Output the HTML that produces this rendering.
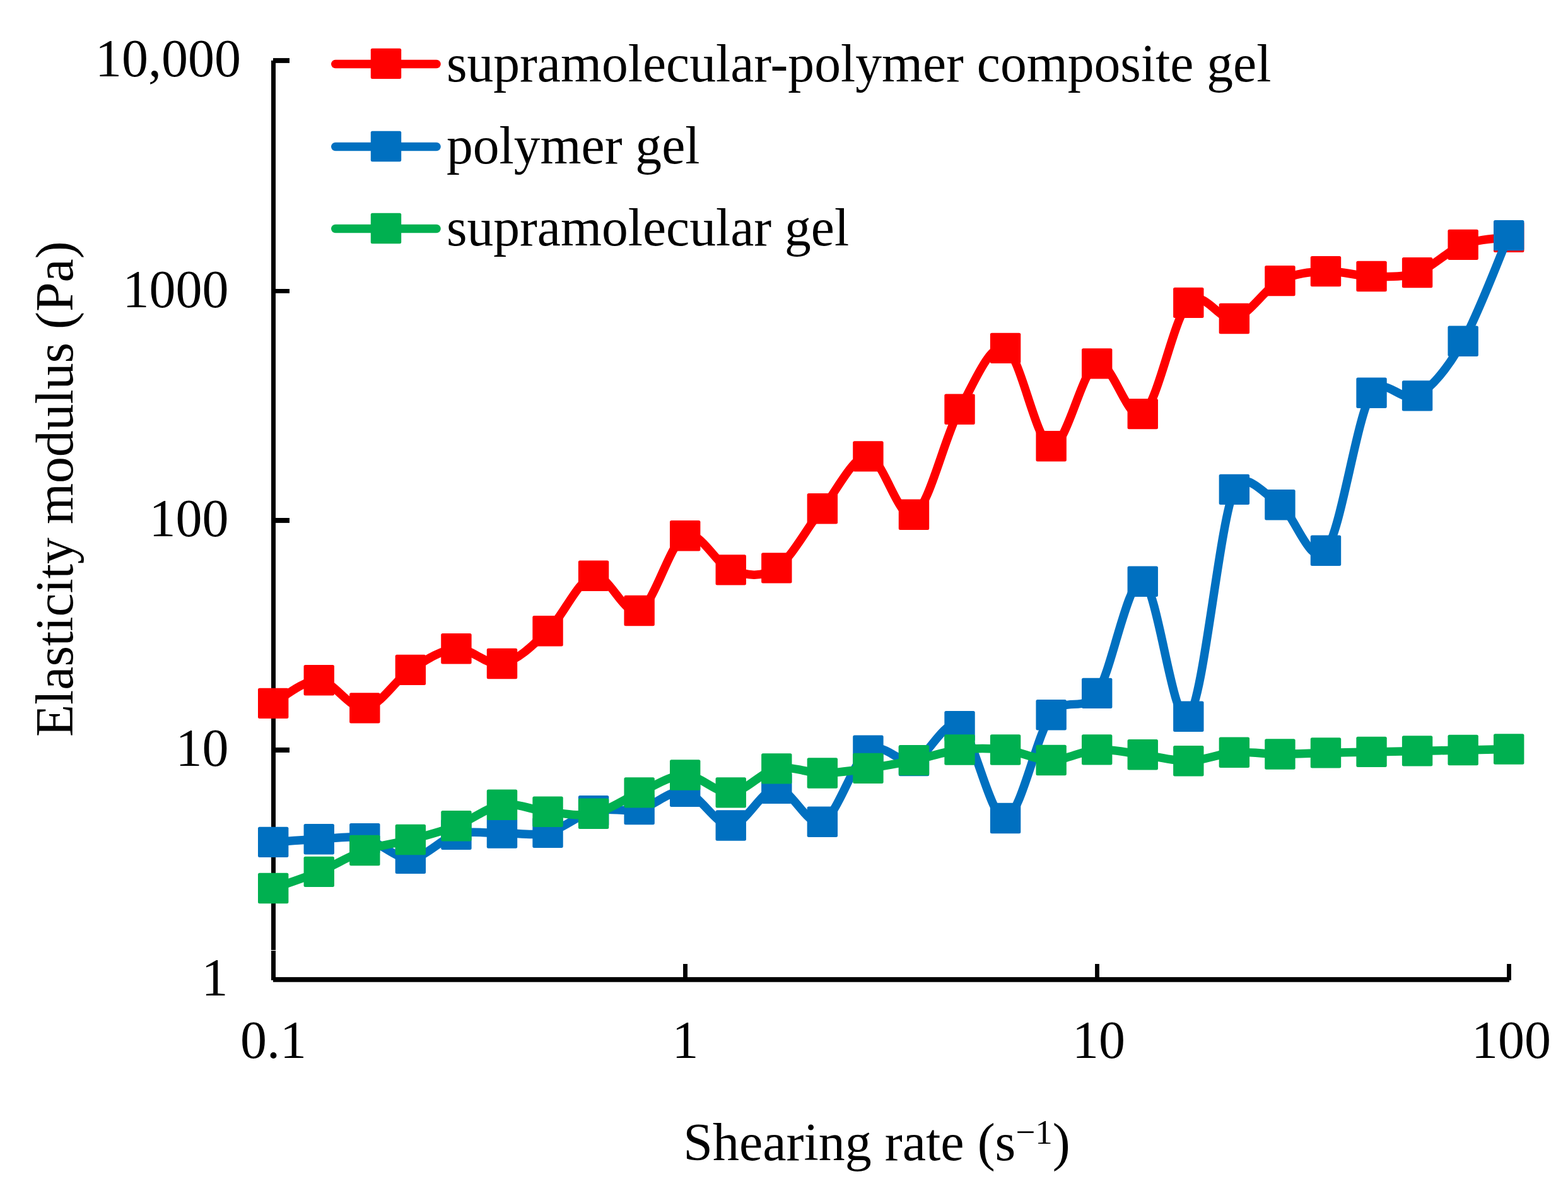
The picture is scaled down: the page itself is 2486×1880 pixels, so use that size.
<!DOCTYPE html>
<html><head><meta charset="utf-8"><title>Elasticity modulus vs shearing rate</title>
<style>html,body{margin:0;padding:0;background:#fff;overflow:hidden;}svg{display:block;}</style>
</head><body>
<svg width="2486" height="1880" viewBox="0 0 2486 1880">
<rect width="2486" height="1880" fill="#fff"/>
<rect x="430" y="95.9" width="7" height="1410.1" fill="#000"/>
<rect x="430" y="1507" width="7" height="46.8" fill="#000"/>
<rect x="433" y="1548.9" width="1959.9" height="7.8" fill="#000"/>
<rect x="433" y="92.1" width="26" height="7.8" fill="#000"/>
<rect x="433" y="458.0" width="26" height="6.8" fill="#000"/>
<rect x="433" y="821.0" width="26" height="7.9" fill="#000"/>
<rect x="433" y="1184.9" width="26" height="8.0" fill="#000"/>
<rect x="1083.05" y="1528.0" width="6.95" height="25.8" fill="#000"/>
<rect x="1736.07" y="1528.0" width="6.83" height="25.8" fill="#000"/>
<rect x="2389.10" y="1528.0" width="6.80" height="25.8" fill="#000"/>
<path d="M433.20 1114.90 C445.29 1108.80 481.57 1077.05 505.76 1078.30 C529.94 1079.55 554.13 1125.13 578.31 1122.40 C602.50 1119.67 626.68 1077.58 650.87 1061.90 C675.05 1046.22 699.24 1029.95 723.42 1028.30 C747.61 1026.65 771.79 1056.67 795.98 1052.00 C820.16 1047.33 844.35 1023.50 868.53 1000.30 C892.72 977.10 916.90 918.18 941.09 912.80 C965.27 907.42 989.46 978.60 1013.64 968.00 C1037.83 957.40 1062.01 859.97 1086.20 849.20 C1110.39 838.43 1134.57 894.87 1158.76 903.40 C1182.94 911.93 1207.13 916.58 1231.31 900.40 C1255.50 884.22 1279.68 835.80 1303.87 806.30 C1328.05 776.80 1352.24 721.82 1376.42 723.40 C1400.61 724.98 1424.79 828.23 1448.98 815.80 C1473.16 803.37 1497.35 692.78 1521.53 648.80 C1545.72 604.82 1569.90 542.17 1594.09 551.90 C1618.27 561.63 1642.46 703.12 1666.64 707.20 C1690.83 711.28 1715.01 584.92 1739.20 576.40 C1763.39 567.88 1787.57 672.18 1811.76 656.10 C1835.94 640.02 1860.13 505.08 1884.31 479.90 C1908.50 454.72 1932.68 510.80 1956.87 505.00 C1981.05 499.20 2005.24 457.58 2029.42 445.10 C2053.61 432.62 2077.79 431.28 2101.98 430.10 C2126.16 428.92 2150.35 437.67 2174.53 438.00 C2198.72 438.33 2222.90 440.45 2247.09 432.10 C2271.27 423.75 2295.46 397.28 2319.64 387.90 C2343.83 378.52 2380.11 377.82 2392.20 375.80" fill="none" stroke="#FF0000" stroke-width="13.5" stroke-linecap="round" stroke-linejoin="round"/>
<rect x="409.00" y="1090.70" width="48.4" height="48.4" rx="2.5" fill="#FF0000"/>
<rect x="481.56" y="1054.10" width="48.4" height="48.4" rx="2.5" fill="#FF0000"/>
<rect x="554.11" y="1098.20" width="48.4" height="48.4" rx="2.5" fill="#FF0000"/>
<rect x="626.67" y="1037.70" width="48.4" height="48.4" rx="2.5" fill="#FF0000"/>
<rect x="699.22" y="1004.10" width="48.4" height="48.4" rx="2.5" fill="#FF0000"/>
<rect x="771.78" y="1027.80" width="48.4" height="48.4" rx="2.5" fill="#FF0000"/>
<rect x="844.33" y="976.10" width="48.4" height="48.4" rx="2.5" fill="#FF0000"/>
<rect x="916.89" y="888.60" width="48.4" height="48.4" rx="2.5" fill="#FF0000"/>
<rect x="989.44" y="943.80" width="48.4" height="48.4" rx="2.5" fill="#FF0000"/>
<rect x="1062.00" y="825.00" width="48.4" height="48.4" rx="2.5" fill="#FF0000"/>
<rect x="1134.56" y="879.20" width="48.4" height="48.4" rx="2.5" fill="#FF0000"/>
<rect x="1207.11" y="876.20" width="48.4" height="48.4" rx="2.5" fill="#FF0000"/>
<rect x="1279.67" y="782.10" width="48.4" height="48.4" rx="2.5" fill="#FF0000"/>
<rect x="1352.22" y="699.20" width="48.4" height="48.4" rx="2.5" fill="#FF0000"/>
<rect x="1424.78" y="791.60" width="48.4" height="48.4" rx="2.5" fill="#FF0000"/>
<rect x="1497.33" y="624.60" width="48.4" height="48.4" rx="2.5" fill="#FF0000"/>
<rect x="1569.89" y="527.70" width="48.4" height="48.4" rx="2.5" fill="#FF0000"/>
<rect x="1642.44" y="683.00" width="48.4" height="48.4" rx="2.5" fill="#FF0000"/>
<rect x="1715.00" y="552.20" width="48.4" height="48.4" rx="2.5" fill="#FF0000"/>
<rect x="1787.56" y="631.90" width="48.4" height="48.4" rx="2.5" fill="#FF0000"/>
<rect x="1860.11" y="455.70" width="48.4" height="48.4" rx="2.5" fill="#FF0000"/>
<rect x="1932.67" y="480.80" width="48.4" height="48.4" rx="2.5" fill="#FF0000"/>
<rect x="2005.22" y="420.90" width="48.4" height="48.4" rx="2.5" fill="#FF0000"/>
<rect x="2077.78" y="405.90" width="48.4" height="48.4" rx="2.5" fill="#FF0000"/>
<rect x="2150.33" y="413.80" width="48.4" height="48.4" rx="2.5" fill="#FF0000"/>
<rect x="2222.89" y="407.90" width="48.4" height="48.4" rx="2.5" fill="#FF0000"/>
<rect x="2295.44" y="363.70" width="48.4" height="48.4" rx="2.5" fill="#FF0000"/>
<rect x="2368.00" y="351.60" width="48.4" height="48.4" rx="2.5" fill="#FF0000"/>
<path d="M433.20 1334.90 C445.29 1334.12 481.57 1331.17 505.76 1330.20 C529.94 1329.23 554.13 1324.00 578.31 1329.10 C602.50 1334.20 626.68 1361.87 650.87 1360.80 C675.05 1359.73 699.24 1329.40 723.42 1322.70 C747.61 1316.00 771.79 1321.07 795.98 1320.60 C820.16 1320.13 844.35 1325.80 868.53 1319.90 C892.72 1314.00 916.90 1291.35 941.09 1285.20 C965.27 1279.05 989.46 1288.07 1013.64 1283.00 C1037.83 1277.93 1062.01 1250.55 1086.20 1254.80 C1110.39 1259.05 1134.57 1309.33 1158.76 1308.50 C1182.94 1307.67 1207.13 1250.75 1231.31 1249.80 C1255.50 1248.85 1279.68 1312.80 1303.87 1302.80 C1328.05 1292.80 1352.24 1205.93 1376.42 1189.80 C1400.61 1173.67 1424.79 1212.45 1448.98 1206.00 C1473.16 1199.55 1497.35 1135.93 1521.53 1151.10 C1545.72 1166.27 1569.90 1299.97 1594.09 1297.00 C1618.27 1294.03 1642.46 1166.32 1666.64 1133.30 C1690.37 1100.91 1716.49 1132.01 1739.20 1098.90 C1763.39 1063.65 1787.57 915.67 1811.76 921.80 C1835.94 927.93 1860.13 1160.02 1884.31 1135.70 C1908.50 1111.38 1932.68 831.82 1956.87 775.90 C1972.05 740.79 2005.24 784.07 2029.42 800.20 C2053.61 816.33 2077.79 902.27 2101.98 872.70 C2126.16 843.13 2150.35 663.68 2174.53 622.80 C2193.04 591.51 2222.90 641.07 2247.09 627.40 C2271.27 613.73 2295.46 583.18 2319.64 540.80 C2343.83 498.42 2380.11 401.05 2392.20 373.10" fill="none" stroke="#0070C0" stroke-width="13.5" stroke-linecap="round" stroke-linejoin="round"/>
<rect x="409.00" y="1310.70" width="48.4" height="48.4" rx="2.5" fill="#0070C0"/>
<rect x="481.56" y="1306.00" width="48.4" height="48.4" rx="2.5" fill="#0070C0"/>
<rect x="554.11" y="1304.90" width="48.4" height="48.4" rx="2.5" fill="#0070C0"/>
<rect x="626.67" y="1336.60" width="48.4" height="48.4" rx="2.5" fill="#0070C0"/>
<rect x="699.22" y="1298.50" width="48.4" height="48.4" rx="2.5" fill="#0070C0"/>
<rect x="771.78" y="1296.40" width="48.4" height="48.4" rx="2.5" fill="#0070C0"/>
<rect x="844.33" y="1295.70" width="48.4" height="48.4" rx="2.5" fill="#0070C0"/>
<rect x="916.89" y="1261.00" width="48.4" height="48.4" rx="2.5" fill="#0070C0"/>
<rect x="989.44" y="1258.80" width="48.4" height="48.4" rx="2.5" fill="#0070C0"/>
<rect x="1062.00" y="1230.60" width="48.4" height="48.4" rx="2.5" fill="#0070C0"/>
<rect x="1134.56" y="1284.30" width="48.4" height="48.4" rx="2.5" fill="#0070C0"/>
<rect x="1207.11" y="1225.60" width="48.4" height="48.4" rx="2.5" fill="#0070C0"/>
<rect x="1279.67" y="1278.60" width="48.4" height="48.4" rx="2.5" fill="#0070C0"/>
<rect x="1352.22" y="1165.60" width="48.4" height="48.4" rx="2.5" fill="#0070C0"/>
<rect x="1424.78" y="1181.80" width="48.4" height="48.4" rx="2.5" fill="#0070C0"/>
<rect x="1497.33" y="1126.90" width="48.4" height="48.4" rx="2.5" fill="#0070C0"/>
<rect x="1569.89" y="1272.80" width="48.4" height="48.4" rx="2.5" fill="#0070C0"/>
<rect x="1642.44" y="1109.10" width="48.4" height="48.4" rx="2.5" fill="#0070C0"/>
<rect x="1715.00" y="1074.70" width="48.4" height="48.4" rx="2.5" fill="#0070C0"/>
<rect x="1787.56" y="897.60" width="48.4" height="48.4" rx="2.5" fill="#0070C0"/>
<rect x="1860.11" y="1111.50" width="48.4" height="48.4" rx="2.5" fill="#0070C0"/>
<rect x="1932.67" y="751.70" width="48.4" height="48.4" rx="2.5" fill="#0070C0"/>
<rect x="2005.22" y="776.00" width="48.4" height="48.4" rx="2.5" fill="#0070C0"/>
<rect x="2077.78" y="848.50" width="48.4" height="48.4" rx="2.5" fill="#0070C0"/>
<rect x="2150.33" y="598.60" width="48.4" height="48.4" rx="2.5" fill="#0070C0"/>
<rect x="2222.89" y="603.20" width="48.4" height="48.4" rx="2.5" fill="#0070C0"/>
<rect x="2295.44" y="516.60" width="48.4" height="48.4" rx="2.5" fill="#0070C0"/>
<rect x="2368.00" y="348.90" width="48.4" height="48.4" rx="2.5" fill="#0070C0"/>
<path d="M433.20 1408.00 C445.29 1403.65 481.57 1391.90 505.76 1381.90 C529.94 1371.90 554.13 1356.48 578.31 1348.00 C602.50 1339.52 626.68 1337.47 650.87 1331.00 C675.05 1324.53 699.24 1318.40 723.42 1309.20 C747.61 1300.00 771.79 1279.53 795.98 1275.80 C820.16 1272.07 844.35 1284.47 868.53 1286.80 C892.72 1289.13 916.90 1294.87 941.09 1289.80 C965.27 1284.73 989.46 1266.62 1013.64 1256.40 C1037.83 1246.18 1062.01 1228.50 1086.20 1228.50 C1110.39 1228.50 1134.57 1258.08 1158.76 1256.40 C1182.94 1254.72 1207.13 1223.55 1231.31 1218.40 C1255.50 1213.25 1279.68 1225.58 1303.87 1225.50 C1328.05 1225.42 1352.24 1221.30 1376.42 1217.90 C1400.61 1214.50 1424.79 1210.00 1448.98 1205.10 C1473.16 1200.20 1497.35 1191.27 1521.53 1188.50 C1545.72 1185.73 1569.90 1185.75 1594.09 1188.50 C1618.27 1191.25 1642.46 1205.02 1666.64 1205.00 C1690.83 1204.98 1715.01 1189.85 1739.20 1188.40 C1763.39 1186.95 1787.57 1193.32 1811.76 1196.30 C1835.94 1199.28 1860.13 1206.88 1884.31 1206.30 C1908.50 1205.72 1932.68 1194.60 1956.87 1192.80 C1981.05 1191.00 2005.24 1195.40 2029.42 1195.50 C2053.61 1195.60 2077.79 1194.00 2101.98 1193.40 C2126.16 1192.80 2150.35 1192.40 2174.53 1191.90 C2198.72 1191.40 2222.90 1190.88 2247.09 1190.40 C2271.27 1189.92 2295.46 1189.48 2319.64 1189.00 C2343.83 1188.52 2380.11 1187.75 2392.20 1187.50" fill="none" stroke="#00B050" stroke-width="13.5" stroke-linecap="round" stroke-linejoin="round"/>
<rect x="409.00" y="1383.80" width="48.4" height="48.4" rx="2.5" fill="#00B050"/>
<rect x="481.56" y="1357.70" width="48.4" height="48.4" rx="2.5" fill="#00B050"/>
<rect x="554.11" y="1323.80" width="48.4" height="48.4" rx="2.5" fill="#00B050"/>
<rect x="626.67" y="1306.80" width="48.4" height="48.4" rx="2.5" fill="#00B050"/>
<rect x="699.22" y="1285.00" width="48.4" height="48.4" rx="2.5" fill="#00B050"/>
<rect x="771.78" y="1251.60" width="48.4" height="48.4" rx="2.5" fill="#00B050"/>
<rect x="844.33" y="1262.60" width="48.4" height="48.4" rx="2.5" fill="#00B050"/>
<rect x="916.89" y="1265.60" width="48.4" height="48.4" rx="2.5" fill="#00B050"/>
<rect x="989.44" y="1232.20" width="48.4" height="48.4" rx="2.5" fill="#00B050"/>
<rect x="1062.00" y="1204.30" width="48.4" height="48.4" rx="2.5" fill="#00B050"/>
<rect x="1134.56" y="1232.20" width="48.4" height="48.4" rx="2.5" fill="#00B050"/>
<rect x="1207.11" y="1194.20" width="48.4" height="48.4" rx="2.5" fill="#00B050"/>
<rect x="1279.67" y="1201.30" width="48.4" height="48.4" rx="2.5" fill="#00B050"/>
<rect x="1352.22" y="1193.70" width="48.4" height="48.4" rx="2.5" fill="#00B050"/>
<rect x="1424.78" y="1180.90" width="48.4" height="48.4" rx="2.5" fill="#00B050"/>
<rect x="1497.33" y="1164.30" width="48.4" height="48.4" rx="2.5" fill="#00B050"/>
<rect x="1569.89" y="1164.30" width="48.4" height="48.4" rx="2.5" fill="#00B050"/>
<rect x="1642.44" y="1180.80" width="48.4" height="48.4" rx="2.5" fill="#00B050"/>
<rect x="1715.00" y="1164.20" width="48.4" height="48.4" rx="2.5" fill="#00B050"/>
<rect x="1787.56" y="1172.10" width="48.4" height="48.4" rx="2.5" fill="#00B050"/>
<rect x="1860.11" y="1182.10" width="48.4" height="48.4" rx="2.5" fill="#00B050"/>
<rect x="1932.67" y="1168.60" width="48.4" height="48.4" rx="2.5" fill="#00B050"/>
<rect x="2005.22" y="1171.30" width="48.4" height="48.4" rx="2.5" fill="#00B050"/>
<rect x="2077.78" y="1169.20" width="48.4" height="48.4" rx="2.5" fill="#00B050"/>
<rect x="2150.33" y="1167.70" width="48.4" height="48.4" rx="2.5" fill="#00B050"/>
<rect x="2222.89" y="1166.20" width="48.4" height="48.4" rx="2.5" fill="#00B050"/>
<rect x="2295.44" y="1164.80" width="48.4" height="48.4" rx="2.5" fill="#00B050"/>
<rect x="2368.00" y="1163.30" width="48.4" height="48.4" rx="2.5" fill="#00B050"/>
<line x1="531.75" y1="101.5" x2="692.05" y2="101.5" stroke="#FF0000" stroke-width="13.5" stroke-linecap="round"/>
<rect x="587.8" y="76.7" width="48.4" height="48.4" rx="2.5" fill="#FF0000"/>
<line x1="531.75" y1="232.6" x2="692.05" y2="232.6" stroke="#0070C0" stroke-width="13.5" stroke-linecap="round"/>
<rect x="587.8" y="207.8" width="48.4" height="48.4" rx="2.5" fill="#0070C0"/>
<line x1="531.75" y1="362.5" x2="692.05" y2="362.5" stroke="#00B050" stroke-width="13.5" stroke-linecap="round"/>
<rect x="587.8" y="337.8" width="48.4" height="48.4" rx="2.5" fill="#00B050"/>
<g font-family="'Liberation Serif', 'Times New Roman', serif" fill="#000">
<text x="707.9" y="129" font-size="83.6">supramolecular-polymer composite gel</text>
<text x="707.9" y="258.8" font-size="83.6">polymer gel</text>
<text x="707.9" y="389" font-size="83.6">supramolecular gel</text>
<text x="382" y="121.2" text-anchor="end" font-size="84">10,000</text>
<text x="362.5" y="486.8" text-anchor="end" font-size="84">1000</text>
<text x="362.5" y="850.1" text-anchor="end" font-size="84">100</text>
<text x="362.5" y="1213.9" text-anchor="end" font-size="84">10</text>
<text x="361.5" y="1577.8" text-anchor="end" font-size="84">1</text>
<text x="433.5" y="1676.5" text-anchor="middle" font-size="84">0.1</text>
<text x="1086.5" y="1676.5" text-anchor="middle" font-size="84">1</text>
<text x="1742.0" y="1676.5" text-anchor="middle" font-size="84">10</text>
<text x="2396.0" y="1676.5" text-anchor="middle" font-size="84">100</text>
<text x="1390" y="1839" text-anchor="middle" font-size="84">Shearing rate (s<tspan dy="-26.5" font-size="55">&#8722;1</tspan><tspan dy="26.5">)</tspan></text>
<text transform="translate(114.7 775.3) rotate(-90)" text-anchor="middle" font-size="83.7">Elasticity modulus (Pa)</text>
</g>
</svg>
</body></html>
